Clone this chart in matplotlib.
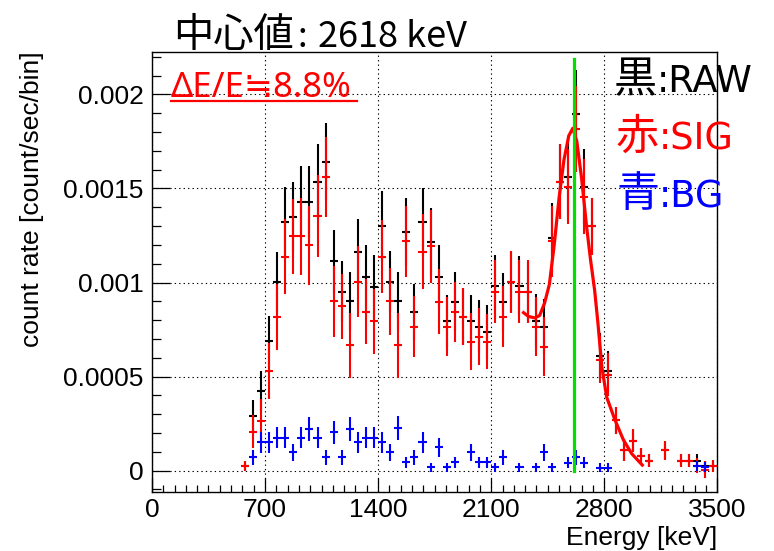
import matplotlib
matplotlib.use("Agg")
import matplotlib.pyplot as plt
import numpy as np
from matplotlib.ticker import MultipleLocator
from matplotlib.lines import Line2D

nan = np.nan
W, H = 774, 551

# ---- data (count rate in units of 1e-4 count/sec/bin) ----
energy_keV = [575, 625, 675, 725, 775, 825, 875, 925, 975, 1025,
              1075, 1125, 1175, 1225, 1275, 1325, 1375, 1425, 1475, 1525,
              1575, 1625, 1675, 1725, 1775, 1825, 1875, 1925, 1975, 2025,
              2075, 2125, 2175, 2225, 2275, 2325, 2375, 2425, 2475, 2525,
              2575, 2625, 2675, 2725, 2775, 2825, 2875, 2925, 2975, 3025,
              3075, 3125, 3175, 3225, 3275, 3325, 3375, 3425, 3475]
bin_half_width = 25

raw = [0.25, 2.92, 4.22, 6.88, 10.05, 13.22, 13.49, 14.29, 14.29, 15.36,
       16.43, 11.12, 9.51, 9.00, 11.65, 10.31, 9.78, 12.99, 10.05, 9.00,
       12.68, 8.44, 13.22, 12.15, 10.31, 7.93, 8.98, 8.19, 7.93, 7.66,
       7.39, 9.80, 8.98, 10.05, 9.80, 9.51, 7.93, 7.66, 12.39, 15.36,
       15.59, 18.98, 15.09, 12.98, 6.11, 5.28, 2.67, 1.10, 1.60, 0.79,
       0.54, nan, 1.08, nan, 0.54, 0.54, 0.54, 0.27, 0.25]
raw_err = [0.25, 0.86, 1.07, 1.35, 1.60, 1.87, 1.87, 1.92, 1.92, 2.00,
           2.05, 1.66, 1.62, 1.55, 1.75, 1.69, 1.66, 1.87, 1.62, 1.55,
           1.82, 1.48, 1.82, 1.82, 1.66, 1.43, 1.57, 1.50, 1.43, 1.43,
           1.43, 1.64, 1.55, 1.65, 1.60, 1.60, 1.45, 1.45, 1.85, 2.00,
           2.00, 2.30, 2.00, 1.50, 1.20, 1.10, 0.71, 0.60, 0.60, 0.40,
           0.35, nan, 0.50, nan, 0.35, 0.35, 0.35, 0.25, 0.25]

sig = [0.25, 2.08, 2.62, 5.29, 8.19, 11.38, 12.45, 12.45, 11.97, 13.52,
       15.62, 9.00, 8.73, 6.66, 10.05, 8.46, 7.93, 11.38, 9.00, 6.66,
       12.19, 7.66, 11.65, 11.92, 8.98, 7.66, 8.44, 8.19, 6.86, 7.13,
       6.86, 9.51, 8.19, 10.05, 9.51, 9.51, 7.66, 6.59, 12.19, 15.36,
       15.09, 18.15, 14.56, 12.98, 5.90, 5.10, 2.67, 1.10, 1.60, 0.79,
       0.54, nan, 1.08, nan, 0.54, 0.54, 0.27, 0.05, 0.25]
sig_err = [0.25, 0.90, 1.17, 1.50, 1.75, 2.00, 2.00, 2.05, 2.10, 2.17,
           2.14, 1.89, 1.71, 1.73, 1.90, 1.75, 1.75, 1.96, 1.78, 1.73,
           1.90, 1.62, 2.00, 1.94, 1.73, 1.57, 1.60, 1.50, 1.52, 1.50,
           1.45, 1.67, 1.60, 1.65, 1.67, 1.67, 1.57, 1.57, 1.90, 2.00,
           2.00, 2.30, 2.00, 1.50, 1.25, 1.15, 0.71, 0.60, 0.60, 0.40,
           0.35, nan, 0.50, nan, 0.35, 0.35, 0.40, 0.45, 0.30]

bg = [nan, 0.71, 1.51, 1.51, 1.76, 1.76, 0.98, 1.76, 2.23, 1.76,
      0.71, 2.03, 0.71, 2.23, 1.51, 1.76, 1.76, 1.51, 0.98, 2.26,
      0.45, 0.71, 1.51, 0.18, 1.25, 0.18, 0.45, nan, 0.98, 0.45,
      0.45, 0.18, 0.71, nan, 0.18, nan, 0.18, 0.98, 0.18, nan,
      0.43, 0.72, 0.43, nan, 0.16, 0.16, nan, nan, nan, nan,
      nan, nan, nan, nan, nan, nan, 0.25, 0.20, nan]
bg_err = [nan, 0.40, 0.55, 0.55, 0.55, 0.55, 0.45, 0.55, 0.65, 0.55,
          0.40, 0.60, 0.40, 0.65, 0.55, 0.55, 0.55, 0.55, 0.45, 0.65,
          0.30, 0.40, 0.55, 0.25, 0.50, 0.25, 0.30, nan, 0.45, 0.30,
          0.30, 0.25, 0.40, nan, 0.25, nan, 0.25, 0.45, 0.25, nan,
          0.30, 0.40, 0.30, nan, 0.25, 0.25, nan, nan, nan, nan,
          nan, nan, nan, nan, nan, nan, 0.25, 0.25, nan]

# fitted curve
fit_E = [2300, 2330, 2370, 2400, 2430, 2460, 2490, 2520, 2550, 2580,
         2605, 2630, 2660, 2690, 2715, 2740, 2760, 2785, 2815, 2866,
         2918, 2970, 3035]
fit_rate = [8.40, 8.20, 8.12, 8.25, 8.90, 9.90, 12.0, 14.5, 16.5, 17.8,
            18.2, 17.5, 15.5, 13.0, 11.2, 9.6, 7.9, 5.5, 3.9, 2.7,
            1.64, 0.90, 0.30]

peak_line_keV = 2612
peak_line_top = 21.86
unit = 1e-4

# ---- figure ----
fig = plt.figure(figsize=(W / 100, H / 100), dpi=100)
ax = fig.add_axes([151.9 / W, (H - 492) / H, (717.4 - 151.9) / W, (492 - 51.7) / H])

x = np.array(energy_keV, dtype=float)

def draw(vals, errs, color, z):
    v = np.array(vals, dtype=float) * unit
    e = np.array(errs, dtype=float) * unit
    m = ~np.isnan(v)
    ax.errorbar(x[m], v[m], yerr=e[m], xerr=bin_half_width, fmt='none',
                ecolor=color, elinewidth=1.5, capsize=0, zorder=z)

draw(raw, raw_err, 'black', 3)
draw(sig, sig_err, '#ff0000', 4)
ax.plot(fit_E, np.array(fit_rate) * unit, color='#ff0000', lw=2.3, zorder=5,
        solid_joinstyle='round')
draw(bg, bg_err, '#0000ff', 6)
ax.plot([peak_line_keV, peak_line_keV], [0, peak_line_top * unit],
        color='#00e000', lw=2.3, zorder=7)

ax.set_xlim(0, 3500)
ax.set_ylim(-1.133e-4, 2.227e-3)
ax.xaxis.set_major_locator(MultipleLocator(700))
ax.xaxis.set_minor_locator(MultipleLocator(70))
ax.yaxis.set_major_locator(MultipleLocator(0.0005))
ax.yaxis.set_minor_locator(MultipleLocator(0.0001))
ax.set_xticks([0, 700, 1400, 2100, 2800, 3500])
ax.set_xticklabels(['0', '700', '1400', '2100', '2800', '3500'])
ax.set_yticks([0, 0.0005, 0.001, 0.0015, 0.002])
ax.set_yticklabels(['0', '0.0005', '0.001', '0.0015', '0.002'])

ax.tick_params(which='both', direction='in', top=False, right=False,
               labelsize=19, width=0.9, color='black')
ax.tick_params(axis='x', which='major', length=10, pad=4)
ax.tick_params(axis='x', which='minor', length=5)
ax.tick_params(axis='y', which='major', length=13, pad=6)
ax.tick_params(axis='y', which='minor', length=6.5)
for lab in ax.get_xticklabels() + ax.get_yticklabels():
    lab.set_fontfamily('Liberation Sans')

ax.grid(True, which='major', color='black', lw=0.8, ls=(0, (1.2, 2.8)), zorder=1)
for s in ax.spines.values():
    s.set_linewidth(1.0)

# axis titles
fig.text(717.4 / W, 1 - 545 / H, 'Energy [keV]', ha='right', va='baseline',
         fontsize=19, family='Liberation Sans')
fig.text(32 / W, 1 - 51.7 / H, 'count rate [count/sec/bin]', ha='center', va='top',
         rotation=90, fontsize=19, family='Liberation Sans')

# overlay annotations
CJK = ['Noto Sans CJK JP', 'DejaVu Sans']
LAT = ['DejaVu Sans']

def ftext(xp, yp, s, size, color='black', family=CJK):
    fig.text(xp / W, 1 - yp / H, s, ha='left', va='baseline', fontsize=size,
             color=color, family=family)

ftext(173, 47, '中心値', 29)
ftext(298, 47, ':', 25)
ftext(318, 47, '2618 keV', 26)

ftext(171, 97, 'ΔE/E≒8.8%', 25, '#ff0000', ['Noto Sans', 'DejaVu Sans'])
fig.add_artist(Line2D([171 / W, 357 / W], [1 - 101 / H, 1 - 101 / H],
                      color='#ff0000', lw=1.6))

ftext(614, 92, '黒', 31)
ftext(657, 92, ':RAW', 26.5, 'black', LAT)
ftext(616, 150, '赤', 31, '#ff0000')
ftext(659, 150, ':SIG', 26.5, '#ff0000', LAT)
ftext(616, 207, '青', 31, '#0000ff')
ftext(659, 207, ':BG', 26.5, '#0000ff', LAT)

fig.savefig('out.png', dpi=100)
